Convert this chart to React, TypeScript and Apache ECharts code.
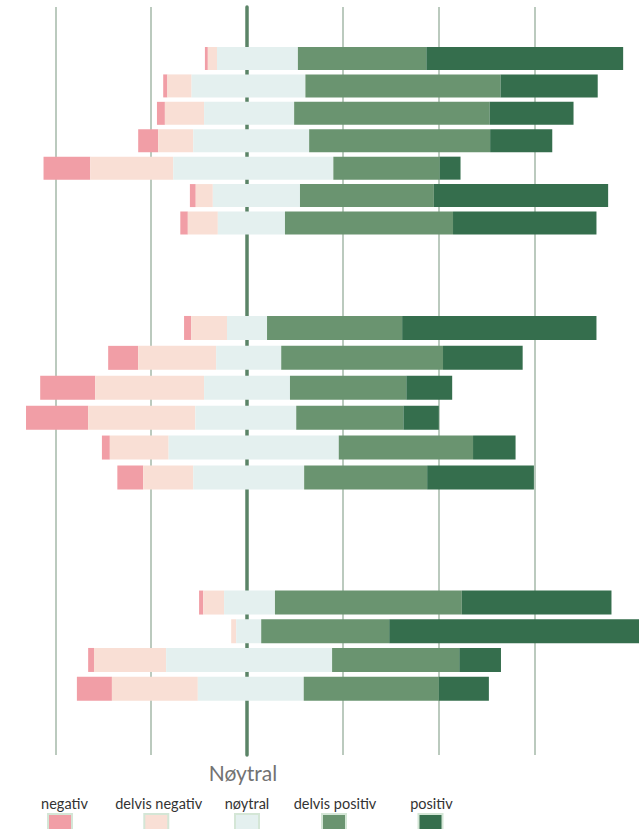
import React, { useEffect, useRef } from 'react';
import * as echarts from 'echarts';

// 17 statements in three groups (no visible labels in the reference)
const categories = [
  '1', '2', '3', '4', '5', '6', '7',
  '8', '9', '10', '11', '12', '13',
  '14', '15', '16', '17',
];
const groupSizes = [7, 6, 4];

// where each bar starts (left edge, % relative to the central line)
const start = [
  -10.1, -20.1, -21.6, -26.1, -48.8, -13.7, -16.0,
  -15.1, -33.3, -49.6, -53.0, -34.8, -31.1,
  -11.5, -3.8, -38.1, -40.8,
];
const negativ = [
  0.7, 1.0, 1.9, 4.8, 11.2, 1.4, 1.8,
  1.7, 7.2, 13.2, 14.9, 1.9, 6.2,
  1.0, 0, 1.4, 8.4,
];
const delvisNegativ = [
  2.2, 5.8, 9.4, 8.4, 19.9, 4.1, 7.2,
  8.6, 18.7, 26.1, 25.7, 14.1, 12.0,
  5.0, 1.2, 17.3, 20.6,
];
const noytral = [
  19.4, 27.3, 21.6, 27.8, 38.4, 20.9, 16.1,
  9.6, 15.6, 20.6, 24.2, 40.8, 26.6,
  12.2, 6.0, 39.8, 25.4,
];
const delvisPositiv = [
  30.8, 46.8, 46.9, 43.4, 25.5, 32.1, 40.3,
  32.4, 38.8, 27.9, 25.7, 32.2, 29.5,
  44.8, 30.7, 30.5, 32.4,
];
const positiv = [
  47.2, 23.3, 20.1, 14.9, 5.0, 41.8, 34.4,
  46.6, 19.1, 11.0, 8.5, 10.2, 25.6,
  35.9, 60.2, 10.0, 12.0,
];

const seriesNames = ['negativ', 'delvis negativ', 'nøytral', 'delvis positiv', 'positiv'];
const seriesColors = ['#f19ea6', '#f9dfd5', '#e4f0ef', '#6a9470', '#356e4d'];
const axisTitle = 'Nøytral';

export default function App() {
  const ref = useRef<HTMLDivElement>(null);

  useEffect(() => {
    if (!ref.current) return;
    const chart = echarts.init(ref.current, null, { renderer: 'svg' });
    const values = [negativ, delvisNegativ, noytral, delvisPositiv, positiv];

    const gridLayout = [
      { top: 44.8, height: 191.9, barWidth: 23 },
      { top: 313, height: 179.4, barWidth: 24 },
      { top: 588.2, height: 114.8, barWidth: 24 },
    ];

    const grids: any[] = [{ left: 55.4, width: 479, top: 7, height: 748 }];
    const xAxes: any[] = [
      {
        gridIndex: 0,
        type: 'value',
        min: -2,
        max: 3,
        interval: 1,
        axisLine: { show: false },
        axisTick: { show: false },
        axisLabel: { show: false },
        splitLine: { show: true, lineStyle: { color: '#a5b8a9', width: 1.5 } },
      },
    ];
    const yAxes: any[] = [
      {
        gridIndex: 0,
        type: 'value',
        min: 0,
        max: 1,
        axisLine: { show: true, onZero: true, lineStyle: { color: '#5b8467', width: 3.5 } },
        axisTick: { show: false },
        axisLabel: { show: false },
        splitLine: { show: false },
      },
    ];
    const series: any[] = [
      { type: 'scatter', xAxisIndex: 0, yAxisIndex: 0, data: [], silent: true },
    ];

    let offset = 0;
    gridLayout.forEach((g, gi) => {
      const idx = gi + 1;
      const n = groupSizes[gi];
      const sl = (arr: any[]) => arr.slice(offset, offset + n);
      grids.push({ left: 1, width: 638, top: g.top, height: g.height });
      xAxes.push({ gridIndex: idx, type: 'value', min: -59, max: 94, show: false, splitLine: { show: false } });
      yAxes.push({ gridIndex: idx, type: 'category', inverse: true, data: sl(categories), show: false });
      series.push({
        type: 'bar',
        name: 'start',
        stack: 'g' + gi,
        stackStrategy: 'all',
        xAxisIndex: idx,
        yAxisIndex: idx,
        barWidth: g.barWidth,
        silent: true,
        itemStyle: { color: 'rgba(0,0,0,0)' },
        data: sl(start),
      });
      values.forEach((v, si) => {
        series.push({
          type: 'bar',
          name: seriesNames[si],
          stack: 'g' + gi,
          stackStrategy: 'all',
          xAxisIndex: idx,
          yAxisIndex: idx,
          barWidth: g.barWidth,
          itemStyle: { color: seriesColors[si] },
          data: sl(v),
        });
      });
      offset += n;
    });

    const labelCenters = [64.5, 158.7, 247, 335, 431.5];
    const swatchCenters = [60, 156.3, 247, 334, 430.5];
    const graphic: any[] = [
      {
        type: 'text',
        x: 243,
        y: 772,
        style: {
          text: axisTitle,
          fill: '#727272',
          fontSize: 21,
          fontFamily: 'Lato',
          align: 'center',
          verticalAlign: 'middle',
        },
      },
    ];
    seriesNames.forEach((name, i) => {
      graphic.push({
        type: 'text',
        x: labelCenters[i],
        y: 803,
        style: {
          text: name,
          fill: '#333333',
          fontSize: 14.5,
          fontFamily: 'Lato',
          align: 'center',
          verticalAlign: 'middle',
        },
      });
      graphic.push({
        type: 'rect',
        shape: { x: swatchCenters[i] - 12, y: 814, width: 24, height: 24 },
        style: { fill: seriesColors[i], stroke: '#d4e6d6', lineWidth: 2 },
      });
    });

    chart.setOption({
      animation: false,
      backgroundColor: '#ffffff',
      grid: grids,
      xAxis: xAxes,
      yAxis: yAxes,
      series,
      graphic,
    });

    return () => chart.dispose();
  }, []);

  return (
    <div
      ref={ref}
      style={{ position: 'absolute', left: 0, top: 0, width: 642, height: 829 }}
    />
  );
}
